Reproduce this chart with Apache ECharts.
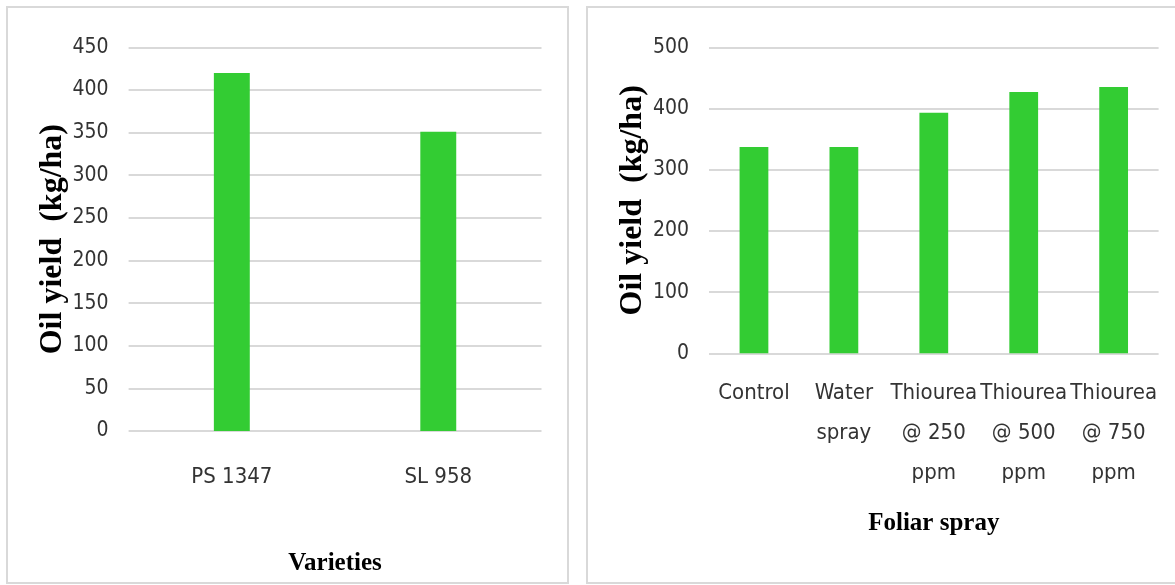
<!DOCTYPE html>
<html>
<head>
<meta charset="utf-8">
<script src="https://cdn.jsdelivr.net/npm/echarts@6/dist/echarts.min.js"></script>
<style>
html,body{margin:0;padding:0;background:#fff;}
#chart{width:1175px;height:585px;}
</style>
</head>
<body>
<div id="chart"></div>
<script>
// ---- data ----
const varieties = ['PS 1347', 'SL 958'];
const varietyYield = [420, 351];
const sprays = ['Control', 'Water\nspray', 'Thiourea\n@ 250\nppm', 'Thiourea\n@ 500\nppm', 'Thiourea\n@ 750\nppm'];
const sprayYield = [337, 337, 393, 427, 435];
const yTitle = 'Oil yield  (kg/ha)';
const leftXTitle = 'Varieties';
const rightXTitle = 'Foliar spray';

const labelFont = '"DejaVu Sans Condensed", "DejaVu Sans", sans-serif';
const titleFont = '"Liberation Serif", "Times New Roman", serif';
const gridColor = '#d9d9d9';
const barColor = '#33cc33';

const chart = echarts.init(document.getElementById('chart'));
const yAxisCommon = {
  type: 'value', min: 0,
  axisLine: {show: false}, axisTick: {show: false},
  splitLine: {lineStyle: {color: gridColor, width: 2}},
  axisLabel: {color: '#333', fontFamily: labelFont, fontSize: 21, margin: 20},
  nameLocation: 'middle',
  nameTextStyle: {color: '#000', fontFamily: titleFont, fontWeight: 'bold', fontSize: 32}
};
const xAxisCommon = {
  type: 'category',
  axisLine: {show: false}, axisTick: {show: false},
  axisLabel: {color: '#333', fontFamily: labelFont, fontSize: 22, lineHeight: 40, margin: 20, interval: 0},
  nameLocation: 'middle',
  nameTextStyle: {color: '#000', fontFamily: titleFont, fontWeight: 'bold', fontSize: 25}
};
chart.setOption({
  animation: false,
  backgroundColor: '#fff',
  graphic: [
    {type: 'rect', shape: {x: 7, y: 7, width: 561, height: 576}, style: {fill: 'none', stroke: gridColor, lineWidth: 2}, silent: true, z: -1},
    {type: 'rect', shape: {x: 587, y: 7, width: 600, height: 576}, style: {fill: 'none', stroke: gridColor, lineWidth: 2}, silent: true, z: -1}
  ],
  grid: [
    {left: 128.6, right: 633.5, top: 47.3, bottom: 154},
    {left: 709, right: 16.4, top: 47.3, bottom: 231.7}
  ],
  xAxis: [
    Object.assign({}, xAxisCommon, {gridIndex: 0, data: varieties, name: leftXTitle, nameGap: 120,
      axisLabel: Object.assign({}, xAxisCommon.axisLabel, {margin: 26})}),
    Object.assign({}, xAxisCommon, {gridIndex: 1, data: sprays, name: rightXTitle, nameGap: 158})
  ],
  yAxis: [
    Object.assign({}, yAxisCommon, {gridIndex: 0, max: 450, interval: 50, name: yTitle, nameGap: 57}),
    Object.assign({}, yAxisCommon, {gridIndex: 1, max: 500, interval: 100, name: yTitle, nameGap: 59})
  ],
  series: [
    {type: 'bar', xAxisIndex: 0, yAxisIndex: 0, data: varietyYield, barWidth: '17.4%', itemStyle: {color: barColor}},
    {type: 'bar', xAxisIndex: 1, yAxisIndex: 1, data: sprayYield, barWidth: '32%', itemStyle: {color: barColor}}
  ]
});
</script>
</body>
</html>
